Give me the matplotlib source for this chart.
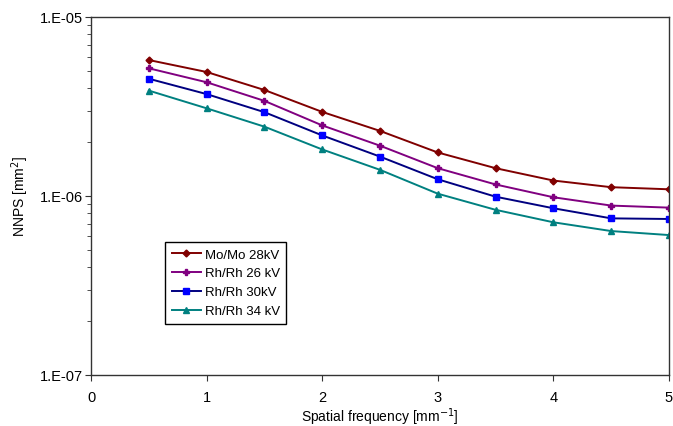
import matplotlib
matplotlib.use("Agg")
import matplotlib.pyplot as plt
from matplotlib.ticker import LogLocator, FixedLocator, NullFormatter

plt.rcParams['font.family'] = ['Liberation Sans', 'DejaVu Sans']

freq = [0.5, 1.0, 1.5, 2.0, 2.5, 3.0, 3.5, 4.0, 4.5, 5.0]
mo28 = [5.75e-6, 4.93e-6, 3.91e-6, 2.95e-6, 2.31e-6, 1.75e-6, 1.43e-6, 1.22e-6, 1.12e-6, 1.09e-6]
rh26 = [5.17e-6, 4.32e-6, 3.40e-6, 2.48e-6, 1.91e-6, 1.43e-6, 1.16e-6, 0.984e-6, 0.884e-6, 0.861e-6]
rh30 = [4.52e-6, 3.71e-6, 2.94e-6, 2.18e-6, 1.66e-6, 1.24e-6, 0.991e-6, 0.854e-6, 0.750e-6, 0.744e-6]
rh34 = [3.88e-6, 3.09e-6, 2.44e-6, 1.82e-6, 1.40e-6, 1.03e-6, 0.837e-6, 0.713e-6, 0.637e-6, 0.605e-6]
labels = ["Mo/Mo 28kV", "Rh/Rh 26 kV", "Rh/Rh 30kV", "Rh/Rh 34 kV"]
yticks = [1e-7, 1e-6, 1e-5]
ytick_labels = ["1.E-07", "1.E-06", "1.E-05"]

fig = plt.figure(figsize=(6.73, 4.27), dpi=100)
ax = fig.add_axes([91/673, 1-376/427, 578/673, 358/427])

ax.plot(freq, mo28, color='#800000', marker='D', markersize=3.5, lw=1.4, label=labels[0])
ax.plot(freq, rh26, color='#800080', marker='P', markersize=4.5, lw=1.4, label=labels[1])
ax.plot(freq, rh30, color='#000080', marker='s', markersize=4.5, lw=1.4,
        markerfacecolor='#0000FF', markeredgecolor='#0000FF', label=labels[2])
ax.plot(freq, rh34, color='#008080', marker='^', markersize=4.5, lw=1.4, label=labels[3])

ax.set_yscale('log')
ax.set_ylim(1e-7, 1e-5)
ax.set_xlim(0, 5)
ax.set_xticks([0, 1, 2, 3, 4, 5])
ax.yaxis.set_major_locator(FixedLocator(yticks))
ax.set_yticklabels(ytick_labels)
ax.yaxis.set_minor_locator(LogLocator(base=10, subs=range(2, 10)))
ax.yaxis.set_minor_formatter(NullFormatter())
ax.tick_params(axis='both', which='major', labelsize=10.5, direction='out', length=4, color='#333333')
ax.tick_params(axis='y', which='minor', direction='out', length=3, color='#333333')
ax.tick_params(axis='y', pad=2)
ax.tick_params(axis='x', pad=7)
for s in ax.spines.values():
    s.set_color('#333333')
    s.set_linewidth(1.0)

ax.set_xlabel("Spatial frequency [mm$^{-1}$]", fontsize=10, labelpad=1)
ax.set_ylabel("NNPS [mm$^{2}$]", fontsize=10, labelpad=6)

leg = ax.legend(loc='upper left', bbox_to_anchor=(0.128, 0.372), fontsize=9.5,
                frameon=True, fancybox=False, edgecolor='black', framealpha=1,
                handlelength=2.2, handletextpad=0.3, borderpad=0.5, labelspacing=0.5,
                borderaxespad=0)
leg.get_frame().set_linewidth(1.0)

fig.savefig("out.png", dpi=100)
